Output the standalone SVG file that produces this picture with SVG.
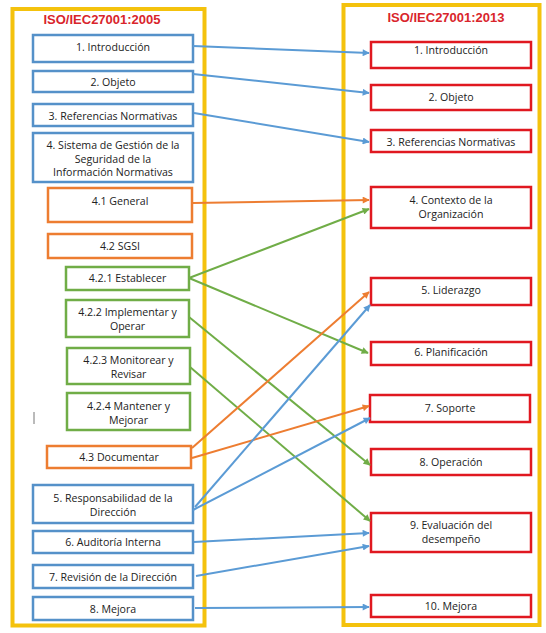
<svg xmlns="http://www.w3.org/2000/svg" width="546" height="633" viewBox="0 0 546 633">
<style>
.frame{fill:none;stroke:#f4c20d;stroke-width:4}
.title{font-family:"Liberation Sans",Arial,sans-serif;font-weight:bold;font-size:13px;fill:#d9252b;text-anchor:middle}
text.t{font-family:"Open Sans","Liberation Sans",sans-serif;font-size:10.6px;fill:#222;text-anchor:middle}
.b{fill:#fff;stroke:#5591c9;stroke-width:2.5}
.o{fill:#fff;stroke:#ed7d31;stroke-width:2.5}
.g{fill:#fff;stroke:#70ad47;stroke-width:2.5}
.r{fill:#fff;stroke:#e01820;stroke-width:2.5}
.cb{stroke:#5b9bd5;stroke-width:2;fill:none;marker-end:url(#ab)}
.co{stroke:#ed7d31;stroke-width:2;fill:none;marker-end:url(#ao)}
.cg{stroke:#70ad47;stroke-width:2;fill:none;marker-end:url(#ag)}
</style>
<defs>
<marker id="ab" viewBox="0 0 10 10" refX="9" refY="5" markerWidth="9" markerHeight="7" markerUnits="userSpaceOnUse" orient="auto"><path d="M0,0L10,5L0,10z" fill="#5b9bd5"/></marker>
<marker id="ao" viewBox="0 0 10 10" refX="9" refY="5" markerWidth="9" markerHeight="7" markerUnits="userSpaceOnUse" orient="auto"><path d="M0,0L10,5L0,10z" fill="#ed7d31"/></marker>
<marker id="ag" viewBox="0 0 10 10" refX="9" refY="5" markerWidth="9" markerHeight="7" markerUnits="userSpaceOnUse" orient="auto"><path d="M0,0L10,5L0,10z" fill="#70ad47"/></marker>
</defs>
<rect width="546" height="633" fill="#fff"/>
<g id="frames">
<rect class="frame" x="12.5" y="9" width="192" height="616.5"/>
<rect class="frame" x="343.5" y="5" width="196" height="620"/>
<text class="title" x="102" y="24">ISO/IEC27001:2005</text>
<text class="title" x="446" y="22">ISO/IEC27001:2013</text>
</g>
<g id="left">
<g id="l1"><rect class="b" x="33" y="35" width="160" height="27"/><text class="t" x="113" y="51">1. Introducción</text></g>
<g id="l2"><rect class="b" x="33" y="71" width="160" height="21"/><text class="t" x="113" y="86">2. Objeto</text></g>
<g id="l3"><rect class="b" x="33" y="104" width="160" height="22"/><text class="t" x="113" y="120">3. Referencias Normativas</text></g>
<g id="l4"><rect class="b" x="33" y="133" width="160" height="49"/><text class="t" x="113" y="149">4. Sistema de Gestión de la</text><text class="t" x="113" y="162.5">Seguridad de la</text><text class="t" x="113" y="176">Información Normativas</text></g>
<g id="l41"><rect class="o" x="48" y="188" width="144" height="34"/><text class="t" x="120" y="205">4.1 General</text></g>
<g id="l42"><rect class="o" x="48" y="234" width="144" height="24"/><text class="t" x="120" y="250">4.2 SGSI</text></g>
<g id="l421"><rect class="g" x="66" y="267" width="123" height="23"/><text class="t" x="127.5" y="282">4.2.1 Establecer</text></g>
<g id="l422"><rect class="g" x="66" y="300" width="123" height="37"/><text class="t" x="127.5" y="316">4.2.2 Implementar y</text><text class="t" x="127.5" y="330">Operar</text></g>
<g id="l423"><rect class="g" x="67" y="348" width="123" height="36"/><text class="t" x="128.5" y="363.5">4.2.3 Monitorear y</text><text class="t" x="128.5" y="377.5">Revisar</text></g>
<g id="l424"><rect class="g" x="67" y="393" width="123" height="37"/><text class="t" x="128.5" y="409.5">4.2.4 Mantener y</text><text class="t" x="128.5" y="423.5">Mejorar</text></g>
<g id="l43"><rect class="o" x="47" y="446" width="144" height="22"/><text class="t" x="119" y="461">4.3 Documentar</text></g>
<g id="l5"><rect class="b" x="33" y="485" width="160" height="38"/><text class="t" x="113" y="502">5. Responsabilidad de la</text><text class="t" x="113" y="516">Dirección</text></g>
<g id="l6"><rect class="b" x="33" y="531" width="160" height="22"/><text class="t" x="113" y="546">6. Auditoría Interna</text></g>
<g id="l7"><rect class="b" x="33" y="565" width="160" height="23"/><text class="t" x="113" y="581">7. Revisión de la Dirección</text></g>
<g id="l8"><rect class="b" x="33" y="597" width="160" height="23"/><text class="t" x="113" y="613">8. Mejora</text></g>
<line x1="34" y1="412" x2="34" y2="424" stroke="#777" stroke-width="1"/>
</g>
<g id="right">
<g id="r1"><rect class="r" x="371" y="42" width="160" height="26"/><text class="t" x="451" y="54">1. Introducción</text></g>
<g id="r2"><rect class="r" x="371" y="85" width="160" height="25"/><text class="t" x="451" y="101">2. Objeto</text></g>
<g id="r3"><rect class="r" x="371" y="130" width="160" height="22"/><text class="t" x="451" y="146">3. Referencias Normativas</text></g>
<g id="r4"><rect class="r" x="371" y="187" width="160" height="41"/><text class="t" x="451" y="203.5">4. Contexto de la</text><text class="t" x="451" y="217.5">Organización</text></g>
<g id="r5"><rect class="r" x="371" y="278" width="160" height="27"/><text class="t" x="451" y="294">5. Liderazgo</text></g>
<g id="r6"><rect class="r" x="371" y="342" width="160" height="23"/><text class="t" x="451" y="356">6. Planificación</text></g>
<g id="r7"><rect class="r" x="370" y="395" width="160" height="27"/><text class="t" x="450" y="412">7. Soporte</text></g>
<g id="r8"><rect class="r" x="371" y="449" width="160" height="26"/><text class="t" x="451" y="466">8. Operación</text></g>
<g id="r9"><rect class="r" x="371" y="513" width="160" height="39"/><text class="t" x="451" y="529">9. Evaluación del</text><text class="t" x="451" y="543">desempeño</text></g>
<g id="r10"><rect class="r" x="371" y="595" width="160" height="22"/><text class="t" x="451" y="610">10. Mejora</text></g>
</g>
<g id="connectors">
<line class="cb" x1="193" y1="46" x2="369" y2="53"/>
<line class="cb" x1="193" y1="74" x2="369" y2="93"/>
<line class="cb" x1="194" y1="113" x2="369" y2="142"/>
<line class="co" x1="193" y1="203" x2="369" y2="200"/>
<line class="cg" x1="189" y1="278" x2="369" y2="209"/>
<line class="cg" x1="189" y1="278" x2="368" y2="353"/>
<line class="cg" x1="189" y1="317" x2="370" y2="465"/>
<line class="cg" x1="190" y1="367" x2="370" y2="521"/>
<line class="co" x1="192" y1="448" x2="369" y2="292"/>
<line class="co" x1="192" y1="458" x2="369" y2="406"/>
<line class="cb" x1="195" y1="507" x2="370" y2="305"/>
<line class="cb" x1="193" y1="510" x2="370" y2="418"/>
<line class="cb" x1="194" y1="542" x2="369" y2="533"/>
<line class="cb" x1="196" y1="576" x2="369" y2="546"/>
<line class="cb" x1="195" y1="608" x2="369" y2="607"/>
</g>
</svg>
